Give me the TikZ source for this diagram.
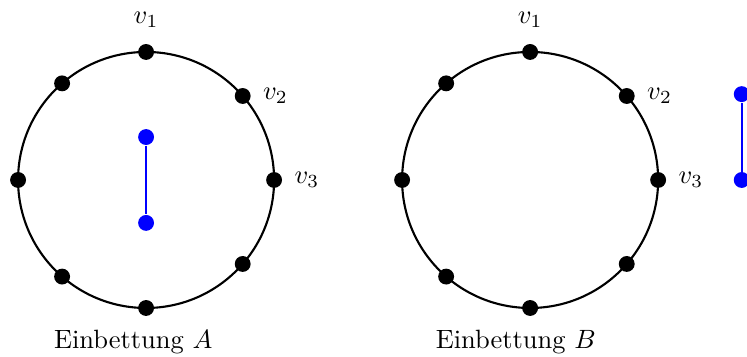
\documentclass[tikz,border=0pt]{standalone}
\usepackage{amsmath,amssymb}
\usepackage{tikz}
\usetikzlibrary{calc,positioning}
\tikzset{
  vert/.style={circle,fill=black,inner sep=0pt,minimum size=6pt},
  bvert/.style={circle,fill=blue,inner sep=0pt,minimum size=6pt},
  bedge/.style={blue,thick},
}

\begin{document}
\begin{tikzpicture}
    \useasboundingbox (-1.94,-2.34) rectangle (7.98,2.39);
    % Einbettung A
    \coordinate (ca) at (0,0);
    \draw[thick] (ca) circle (1.7);
    \foreach \a/\n in {90/1,41/2,0/3,-41/4,-90/5,-131/6,180/7,131/8} {
      \node[vert] (a\n) at ($(ca)+(\a:1.7)$) {};
    }
    \node[above=2.5pt of a1] (la1) {$v_1$};
    \node[right=1pt of a2] (la2) {$v_2$};
    \node[right=1pt of a3] (la3) {$v_3$};
    \node[bvert] (ax) at (0,0.57) {};
    \node[bvert] (ay) at (0,-0.57) {};
    \draw[bedge] (ax) -- (ay);
    \node (capa) at (-0.17,-2.15) {Einbettung $A$};
    % Einbettung B
    \coordinate (cb) at (5.1,0);
    \draw[thick] (cb) circle (1.7);
    \foreach \a/\n in {90/1,41/2,0/3,-41/4,-90/5,-131/6,180/7,131/8} {
      \node[vert] (b\n) at ($(cb)+(\a:1.7)$) {};
    }
    \node[above=2.5pt of b1] (lb1) {$v_1$};
    \node[right=1pt of b2] (lb2) {$v_2$};
    \node[right=1pt of b3] (lb3) {$v_3$};
    \node[bvert] (bx) at (7.91,1.14) {};
    \node[bvert] (by) at (7.91,0) {};
    \draw[bedge] (bx) -- (by);
    \node (capb) at (4.91,-2.15) {Einbettung $B$};
\end{tikzpicture}
\end{document}
